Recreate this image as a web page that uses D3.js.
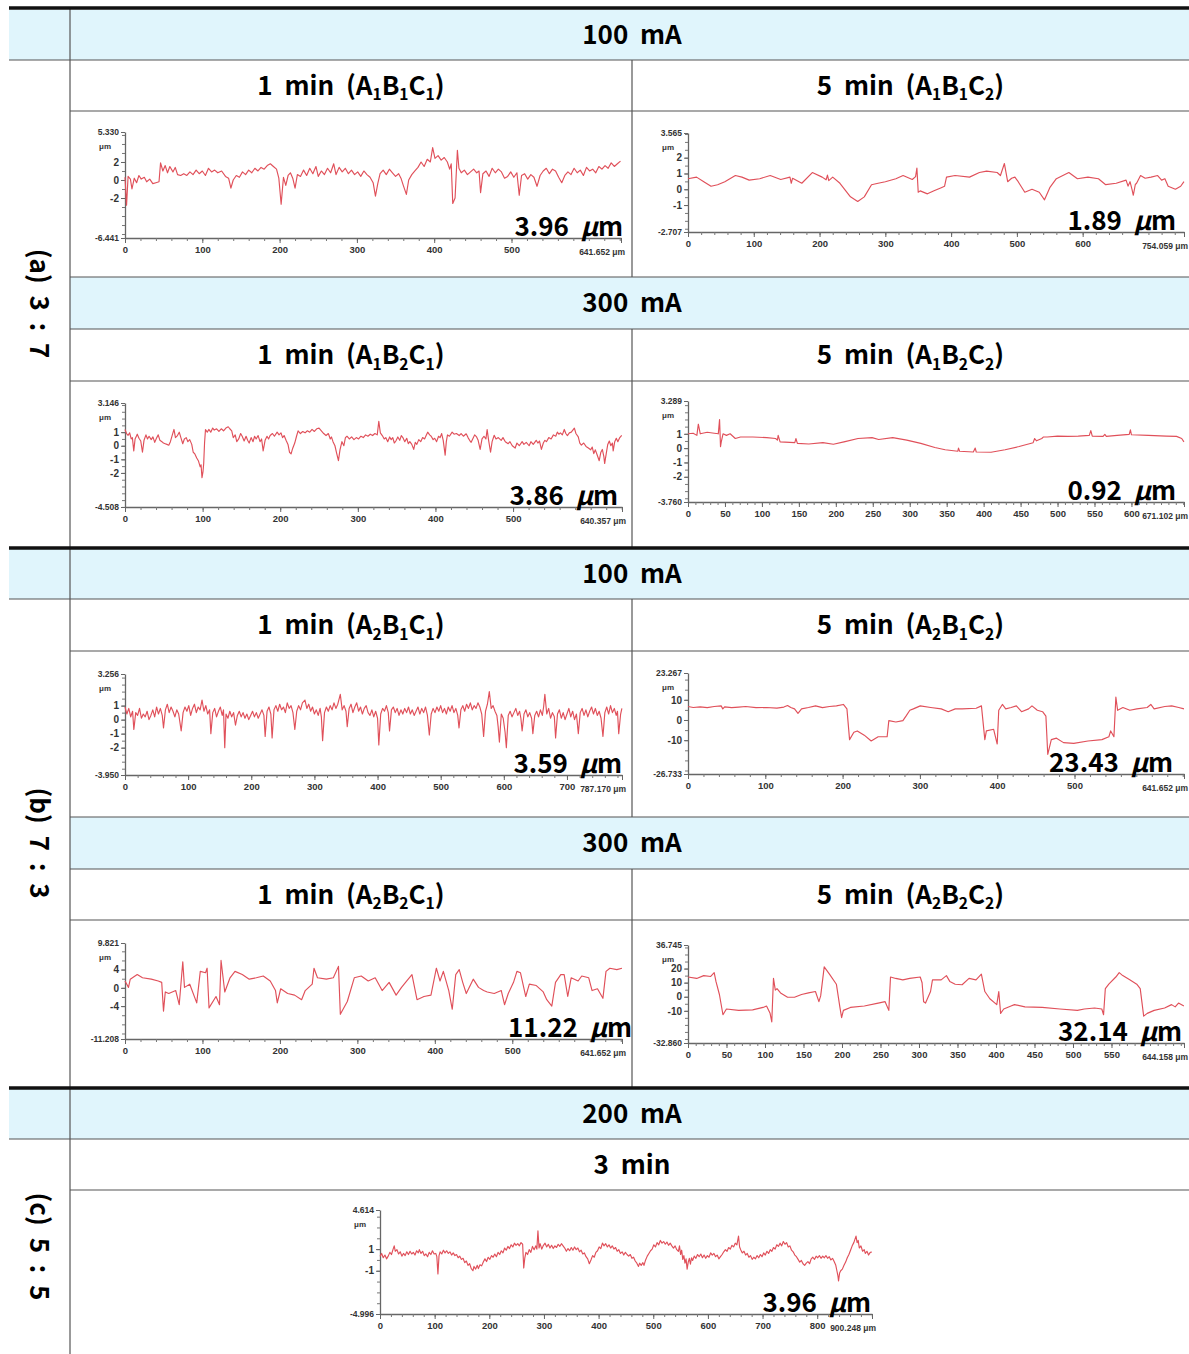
<!DOCTYPE html>
<html>
<head>
<meta charset="utf-8">
<script src="https://cdn.jsdelivr.net/npm/d3@7"></script>
<style>
  body { margin: 0; background: #fff; }
  text { white-space: pre; }
</style>
</head>
<body>
<div id="chart"></div>
<script>
// ---- Data ----
const groupLabels = ["(a)  3  :  7", "(b)  7  :  3", "(c)  5  :  5"]
const bandLabels = ["100  mA", "300  mA", "100  mA", "300  mA", "200  mA"]
const subLabels = [
  ["1  min  (A_1B_1C_1)", "5  min  (A_1B_1C_2)"],
  ["1  min  (A_1B_2C_1)", "5  min  (A_1B_2C_2)"],
  ["1  min  (A_2B_1C_1)", "5  min  (A_2B_1C_2)"],
  ["1  min  (A_2B_2C_1)", "5  min  (A_2B_2C_2)"],
  ["3  min"]
]
const roughness = ["3.96", "1.89", "3.86", "0.92", "3.59", "23.43", "11.22", "32.14", "3.96"]
const yMaxValues = [5.330, 3.565, 3.146, 3.289, 3.256, 23.267, 9.821, 36.745, 4.614]
const yMinValues = [-6.441, -2.707, -4.508, -3.760, -3.950, -26.733, -11.208, -32.860, -4.996]
const xLengths = [641.652, 754.059, 640.357, 671.102, 787.170, 641.652, 641.652, 644.158, 900.248]
const yTickLabels = [[2, 0, -2], [2, 1, 0, -1], [1, 0, -1, -2], [1, 0, -1, -2], [1, 0, -1, -2],
  [10, 0, -10], [4, 0, -4], [20, 10, 0, -10], [1, -1]]
const yMinorSteps = [1, 0.5, 0.5, 0.5, 0.5, 5, 2, 5, 1]
const xTickSteps = [100, 100, 100, 50, 100, 100, 100, 50, 100]

const profile1 = [[0,0.3],[2,-2.8],[4,0.4],[7,0.1],[9,-1.0],[12,0.2],[15,-0.3],[18,0.5],[21,0.1],[25,0.3],[28,-0.2],[32,0.1],[36,-0.4],[40,-0.3],[44,-0.2],[46,1.9],[49,1.0],[52,1.6],[55,0.8],[58,1.5],[62,0.9],[65,1.4],[68,0.6],[72,0.5],[76,0.7],[80,0.5],[84,0.9],[88,0.6],[92,1.1],[96,0.7],[100,1.0],[104,0.5],[108,1.3],[112,0.9],[116,1.1],[120,0.8],[125,1.0],[130,0.4],[134,0.2],[137,-0.9],[140,0.0],[144,0.5],[148,0.3],[152,0.9],[156,0.6],[160,1.1],[164,0.8],[168,1.3],[172,1.0],[176,1.4],[180,1.2],[184,1.6],[188,1.8],[192,1.5],[196,1.2],[199,0.2],[202,-2.7],[205,0.3],[208,-0.6],[211,0.5],[214,0.8],[217,0.2],[220,-0.9],[223,0.6],[227,0.4],[231,1.1],[235,0.5],[239,1.3],[243,0.7],[247,1.5],[250,0.4],[254,1.0],[258,0.6],[262,1.3],[266,0.8],[270,1.8],[273,0.6],[277,1.4],[281,0.9],[285,1.3],[289,0.7],[293,1.1],[297,0.6],[301,0.9],[305,0.4],[309,1.0],[313,0.6],[317,0.3],[321,-0.3],[324,-1.8],[327,-0.4],[330,0.7],[334,1.1],[338,0.6],[342,1.2],[346,0.8],[350,0.4],[354,0.7],[357,0.2],[360,-0.6],[364,-1.6],[367,0.0],[371,0.6],[375,1.0],[379,1.4],[383,2.0],[387,1.5],[391,2.3],[395,2.0],[398,3.6],[401,2.4],[405,2.7],[409,2.2],[413,2.5],[417,2.0],[420,1.2],[422,1.8],[424,-2.6],[427,-2.0],[430,3.3],[432,1.3],[435,0.8],[439,1.1],[443,0.6],[447,0.9],[451,1.2],[455,0.8],[458,1.0],[460,-1.4],[463,0.7],[467,1.0],[471,0.4],[475,1.3],[479,0.8],[483,1.2],[487,0.9],[491,0.2],[495,0.4],[499,0.9],[503,0.3],[507,0.8],[510,-1.7],[513,0.5],[517,0.7],[521,0.1],[525,0.6],[529,0.3],[533,-0.7],[537,0.5],[541,1.0],[545,1.3],[549,0.7],[553,1.2],[557,1.0],[561,0.3],[565,-0.3],[569,0.5],[573,0.9],[577,0.6],[581,1.3],[585,0.8],[589,1.1],[593,0.5],[597,1.4],[601,1.0],[605,1.2],[609,0.8],[613,1.5],[617,1.2],[621,1.6],[625,1.3],[629,1.9],[633,1.5],[637,1.8],[641,2.1]]

const profile2 = [[0,0.67],[13,0.77],[24,0.48],[35,0.19],[45,0.29],[56,0.48],[72,0.87],[82,0.77],[93,0.58],[109,0.67],[125,0.87],[141,0.62],[155,0.77],[157,0.38],[159,0.7],[173,0.38],[189,1.06],[204,0.77],[210,0.6],[212,0.9],[214,0.55],[220,0.77],[231,0.38],[247,-0.48],[258,-0.77],[268,-0.48],[279,0.29],[289,0.38],[300,0.48],[316,0.67],[327,0.87],[341,0.62],[346,0.8],[348,1.35],[350,-0.19],[353,-0.1],[364,-0.29],[374,-0.1],[385,0.1],[390,0.19],[393,0.77],[406,0.87],[428,0.77],[443,1.06],[454,1.15],[470,1.06],[475,0.87],[481,1.63],[486,0.48],[492,0.7],[497,0.77],[502,0.48],[512,-0.19],[523,0],[534,-0.19],[542,-0.67],[550,0.1],[560,0.67],[579,1.06],[592,0.67],[608,0.77],[624,0.67],[635,0.29],[651,0.38],[666,0.58],[669,0.2],[672,0.48],[675,0.0],[677,-0.38],[680,0.3],[682,0.38],[688,0.87],[695,0.7],[704,0.77],[714,0.87],[720,0.58],[725,0.67],[730,0.19],[741,0],[749,0.19],[754,0.48]]

const profile3 = [[0,1.19],[2,0.9],[4,0.77],[6,0.95],[8,0.5],[9.5,0.6],[11.3,-0.38],[13,0.5],[15.8,0.85],[18,0.55],[20.3,0.35],[22.5,-0.48],[24.5,0.4],[27,0.8],[29,0.5],[31,0.7],[33.8,0.45],[36,0.65],[38.3,0.25],[40.5,0.55],[42.8,0.8],[45,0.4],[47.5,0.3],[49.5,0.2],[51.8,0.15],[54,0.1],[56.4,0.04],[58.5,0.3],[61,0.8],[63.1,1.2],[65,0.6],[67.6,0.75],[69.9,1.0],[72,0.6],[74.4,0.15],[76.5,0.5],[78.9,0.6],[81,0.3],[83.4,0.45],[86,0.1],[87.9,-0.48],[90,-0.6],[92.4,-0.9],[94.5,-1.1],[96.9,-1.55],[98,-1.4],[99.2,-2.35],[100.5,-1.9],[101.4,-1.31],[102.5,0.2],[103.7,1.19],[106,1.0],[108,1.2],[110.5,1.0],[113,1.3],[115,1.15],[118,1.25],[121,1.05],[124,1.25],[127,1.1],[130,1.3],[133,1.4],[135,1.25],[137.5,1.1],[139.5,0.6],[142,0.8],[144,0.3],[146.5,0.5],[149,0.9],[151,0.7],[153.5,0.35],[156,0.7],[158,0.4],[160,0.2],[162.5,0.6],[165,0.3],[167,0.7],[169,0.5],[171.5,0.75],[174,0.3],[176,0.5],[178,-0.38],[180.5,0.4],[183,0.7],[185,0.5],[187,0.75],[190,0.9],[192.5,0.7],[196,1.0],[198.5,0.8],[201,0.95],[203,0.6],[205,0.75],[207.5,0.4],[210,0.1],[212,-0.48],[214,-0.6],[216,-0.2],[218.7,0.2],[221,0.7],[223,1.1],[226,0.9],[229,1.05],[232,0.95],[235,1.1],[238,1.0],[241,1.2],[244,1.05],[247,1.25],[250,1.3],[253,1.1],[256,0.9],[259,0.75],[262,0.9],[264.5,0.5],[266,0.65],[268,0.3],[270.5,0.0],[272.5,-0.5],[275,-1.1],[277,-0.3],[279.5,0.3],[282,0.0],[284,0.6],[286,0.7],[289,0.5],[292,0.65],[295,0.45],[298,0.6],[301,0.5],[304,0.7],[307,0.6],[310,0.8],[313,0.7],[316,0.85],[319,0.75],[322,0.9],[325,0.8],[327,1.8],[329,0.95],[331.5,0.75],[334,0.5],[336,0.6],[338.5,0.3],[341,0.65],[343,0.45],[345,0.6],[347,0.2],[349,0.35],[351.5,0.65],[354,0.4],[356,0.75],[358,0.6],[360.5,0.3],[363,0.55],[365,0.15],[367,0.3],[369.5,0.1],[372,-0.27],[374,0.25],[376,0.1],[378.5,0.45],[381,0.3],[383.5,0.6],[386,0.5],[388,0.75],[390,1.0],[392.5,0.8],[394.5,0.7],[397,0.45],[399,0.55],[401.5,0.3],[404,0.7],[406,0.6],[408,0.9],[410,0.4],[412.5,-0.69],[414,0.3],[415.5,0.8],[418,0.7],[421.5,1.0],[424,0.85],[427,0.9],[430.6,0.75],[433,0.9],[436,0.7],[439.6,0.88],[442,0.6],[444,0.4],[446,0.25],[448,0.5],[450.5,0.8],[453,0.65],[455,0.4],[457.6,-0.27],[460,0.5],[462.5,0.7],[465,0.5],[466.6,1.19],[468.5,0.4],[471,-0.48],[473,0.3],[475.7,0.77],[478,0.5],[481,0.6],[484.7,0.4],[487,0.6],[490,0.3],[493.7,0.15],[496,0.3],[499,0.0],[502.7,-0.17],[505,0.2],[508,0.0],[511.7,0.3],[514,0.1],[517,0.25],[520.7,0.0],[523,0.3],[526,0.1],[529.8,0.4],[532,0.2],[534,0.35],[536.5,-0.27],[539,0.2],[541,0.4],[543,0.3],[546,0.6],[549,0.5],[552,0.8],[555,0.7],[557,1.0],[559,0.85],[561,0.95],[563.5,0.8],[566,1.2],[568,0.9],[570,0.75],[572.5,0.95],[575,1.0],[577,1.15],[579,1.3],[581,0.9],[584,0.65],[586,0.2],[588,0.05],[591,0.2],[594,-0.05],[597,-0.17],[600,-0.3],[602,-0.1],[604,-0.58],[606,-0.3],[608.5,-0.7],[611,-1.1],[613,-0.5],[615,-0.27],[617,-0.8],[618,-1.31],[620,-0.6],[622,0.1],[624,0.35],[626,0.0],[628,0.2],[629,-0.38],[631,0.3],[633,0.55],[635,0.3],[637.5,0.6],[640,0.77]]

const profile4 = [[0,1.0],[7,1.04],[12,0.89],[14,1.67],[16.6,1.0],[26,1.11],[35.5,1.04],[41,1.0],[42.7,2.0],[44,0.1],[45,0.44],[47.4,1.0],[52,0.89],[57,1.0],[64,0.67],[71,0.78],[87.7,0.78],[106.6,0.73],[118.5,0.67],[121,0.56],[122,0.89],[124.6,0.44],[144.5,0.38],[146,0.67],[148,0.33],[163.5,0.29],[182.5,0.38],[196.7,0.27],[211,0.44],[230,0.67],[249,0.73],[258,0.6],[277,0.73],[296,0.56],[315,0.33],[334,0.04],[348,-0.11],[365,-0.22],[366,0.0],[367.5,-0.22],[386,-0.27],[388.6,0.0],[390,-0.27],[410,-0.29],[429,-0.11],[448,0.11],[467,0.38],[469,0.67],[471.6,0.51],[478.7,0.67],[481,0.78],[486,0.78],[500,0.84],[514,0.82],[528,0.84],[543,0.89],[545,1.22],[547,0.84],[561.6,0.82],[564,0.96],[566,0.82],[580.6,0.89],[597,0.96],[598.6,1.27],[600,0.93],[623,0.89],[647,0.84],[661,0.82],[668,0.67],[671,0.44]]

const profile5 = [[0,0.9],[3,0.4],[6,0.8],[9,0.2],[12,0.6],[14,-0.7],[17,0.5],[20,0.3],[23,0.8],[26,0.1],[29,0.4],[32,0.2],[35,0.6],[38,0.0],[41,0.3],[44,0.7],[47,0.2],[50,0.9],[53,0.4],[56,0.8],[59,0.3],[61,-0.6],[64,0.7],[67,1.1],[70,0.5],[73,0.9],[76,0.6],[79,0.2],[82,0.7],[85,0.4],[89,-0.8],[92,0.5],[95,0.9],[98,0.6],[101,1.0],[104,0.3],[107,0.8],[110,1.1],[113,0.5],[116,0.9],[119,0.7],[122,1.4],[125,0.6],[128,1.0],[131,0.4],[134,0.7],[136,-1.0],[139,0.5],[142,0.8],[145,0.2],[148,0.6],[151,0.9],[154,0.3],[156,0.7],[158,-2.0],[160,0.4],[163,0.1],[166,0.6],[169,0.2],[172,0.5],[175,-0.4],[178,0.3],[181,0.6],[184,0.2],[187,0.5],[190,0.1],[193,0.4],[196,0.0],[199,0.3],[202,0.6],[205,0.2],[208,0.5],[211,0.1],[214,0.4],[217,0.7],[220,0.3],[222,-1.2],[225,0.6],[228,0.9],[231,0.4],[233,-1.3],[236,0.7],[239,1.0],[242,0.6],[245,1.1],[248,0.7],[251,0.9],[254,0.5],[257,1.2],[260,0.8],[263,1.0],[266,0.5],[269,-0.7],[272,0.6],[275,1.0],[278,0.7],[281,1.2],[285,1.4],[288,0.8],[291,1.1],[294,0.6],[297,0.9],[300,0.4],[303,0.7],[306,0.3],[309,0.8],[311,0.2],[313,-1.5],[316,0.5],[319,0.9],[322,0.6],[325,1.0],[328,0.7],[331,1.2],[334,0.8],[337,1.1],[341,1.8],[344,0.7],[347,1.0],[350,0.6],[352,-0.5],[355,0.8],[358,1.1],[361,0.5],[364,0.9],[367,1.2],[370,0.6],[373,0.9],[376,0.4],[379,0.8],[382,1.0],[385,0.5],[388,0.3],[391,0.7],[394,0.2],[397,0.6],[400,0.1],[402,-1.8],[405,0.4],[408,0.8],[411,0.6],[414,1.0],[417,0.5],[419,-0.8],[422,0.7],[425,0.9],[428,0.5],[431,0.8],[434,0.3],[437,0.7],[440,0.4],[443,0.8],[446,0.5],[449,0.9],[452,0.4],[455,0.7],[458,0.3],[461,0.6],[464,0.9],[467,0.4],[470,0.8],[473,0.5],[476,0.9],[479,0.3],[482,-1.1],[485,0.4],[488,0.8],[491,0.5],[494,0.9],[497,0.6],[500,1.0],[503,0.5],[506,0.8],[509,0.4],[512,0.9],[515,0.6],[518,1.0],[521,0.5],[524,0.8],[527,0.3],[529,-0.6],[532,0.7],[535,1.0],[538,0.6],[541,1.1],[544,0.8],[547,1.2],[550,0.7],[553,1.0],[556,0.8],[559,1.2],[562,0.9],[565,0.4],[568,-1.2],[571,0.6],[574,1.1],[577,2.0],[580,0.8],[583,1.0],[586,0.6],[589,0.3],[591,-0.5],[593,-1.6],[596,0.4],[599,0.1],[602,-0.9],[604,-2.0],[607,0.3],[610,0.6],[613,0.2],[616,0.5],[619,0.8],[622,0.3],[625,0.6],[627,0.1],[629,-0.8],[632,0.4],[635,0.7],[638,0.2],[641,0.5],[644,0.1],[646,-1.0],[649,0.3],[652,0.6],[655,0.2],[658,0.7],[661,0.3],[663,0.9],[665,1.8],[668,0.4],[671,0.8],[674,0.1],[677,0.5],[680,0.2],[682,-1.3],[685,0.4],[688,0.7],[691,0.1],[694,0.5],[697,0.0],[700,0.4],[703,0.8],[706,0.2],[709,0.6],[712,0.0],[715,0.4],[718,-1.0],[721,0.5],[724,0.8],[727,0.3],[730,0.7],[733,0.2],[736,0.6],[739,0.9],[742,0.4],[745,0.8],[748,0.3],[751,0.6],[754,0.1],[757,-1.2],[760,0.5],[763,0.9],[766,0.4],[769,1.0],[772,0.5],[775,0.8],[778,0.3],[780,0.6],[782,-1.0],[785,0.4],[787,0.8]]

const profile6 = [[0,6.7],[6.8,6.2],[15.8,6.5],[24.9,6.1],[33.9,6.7],[42.9,7.0],[45,5.5],[47.4,6.5],[56.5,6.1],[65.5,6.4],[74.6,6.7],[88,6.1],[101.7,6.2],[115,5.9],[124,6.4],[128.8,7.2],[133,6.2],[137.8,5.5],[142.3,3.3],[146.9,5.5],[155.9,6.2],[165,7.0],[174,6.1],[183,6.7],[192,7.0],[201,7.7],[205.6,5.5],[209,-9.7],[214.6,-6.1],[219,-5.4],[228,-7.5],[237,-10.4],[246,-8.3],[257.6,-8.3],[259.8,-0.3],[268.9,-1.0],[278,-0.3],[282,1.9],[287,4.8],[291.5,5.5],[300.5,7.0],[314,6.2],[327.6,5.5],[336.6,4.1],[345.7,5.5],[354.7,5.5],[372.8,5.8],[379.6,7.0],[384,-9.7],[386,-5.4],[395.4,-4.6],[400,-11.9],[402,4.8],[406.7,7.7],[411,5.5],[418,6.2],[424.8,7.0],[431.5,4.1],[440.6,5.5],[445,7.0],[451.9,4.8],[458.7,4.1],[463,1.9],[465.4,-17],[470,-9.7],[476.7,-9.0],[485.8,-11.2],[499,-11.6],[517.4,-10.4],[535.5,-9.7],[544.5,-8.3],[546.8,-5.4],[551,-8.3],[553.5,11.3],[555.8,4.8],[562.6,6.2],[571.6,4.8],[580.7,5.5],[594,6.2],[598.7,7.7],[603,5.5],[616.8,6.7],[625.8,7.0],[634.9,6.2],[641.6,5.5]]

const profile7 = [[0,1.5],[4.5,0.1],[6.8,1.9],[15.8,2.9],[22.6,2.2],[33.9,1.9],[42.9,1.5],[47.4,1.2],[49.7,-5.1],[52,-0.9],[56.5,-1.25],[61,-0.9],[65.5,-0.6],[70,-3.7],[74.6,5.7],[76.8,0.1],[83.6,0.8],[92.6,-3.3],[97.2,3.6],[104,3.3],[106,4.3],[108.5,-4.4],[117.5,-1.9],[122,-3.7],[124,6.0],[128.8,-0.9],[135.6,2.2],[142,3.6],[151.4,2.9],[160.4,1.9],[169.5,2.2],[178.5,2.6],[187.5,1.5],[194.3,-0.6],[196.6,-3.3],[201,-0.2],[210,-1.25],[219,-1.6],[228,-2.6],[232.7,-0.6],[241.7,0.8],[244,4.3],[248.5,2.2],[260,1.9],[269,2.2],[275.6,4.7],[278,-5.8],[287,-3.0],[296,2.2],[305,2.6],[314,1.5],[323,2.2],[332,-0.6],[341,1.2],[350,-1.6],[357,0.1],[363.8,1.5],[370.5,2.9],[377,-2.6],[386,-1.9],[395,-1.6],[402,4.3],[406.7,1.5],[411,3.6],[418,-0.6],[422.5,-4.7],[427,2.9],[431.5,4.0],[436,1.2],[440.6,-1.25],[449.6,1.9],[456.4,0.1],[463,-0.6],[467.7,-0.9],[476.7,-1.25],[485.8,-0.6],[490,-3.7],[494.8,-1.25],[501.6,1.2],[506,3.6],[510.6,3.3],[517.4,-1.9],[522,0.8],[531,0.5],[540,-0.9],[544.5,-2.6],[551,-4.0],[555.8,1.2],[562.6,2.9],[567,2.9],[571.6,-1.9],[576,2.2],[585,1.5],[589.7,2.6],[598.7,2.2],[603,-0.6],[610,-0.2],[617,-2.3],[621,3.6],[626,4.3],[635,4.0],[641.6,4.3]]

const profile8 = [[0,14],[11.3,13],[20.4,15],[29.5,14.4],[34,17.1],[36.3,10.9],[40.8,1.6],[45.4,-12.8],[49.9,-8.7],[65.8,-9.7],[83.9,-9.3],[97.5,-7.6],[102,-6.6],[106.6,-11.8],[108.8,-17.9],[111,13],[113.4,4.7],[115.6,5.8],[120.2,2.7],[129.3,-0.4],[138.3,-0.4],[147.4,1.6],[156.5,2.7],[165.5,3.7],[170,-3.5],[172.3,0.6],[176.9,21.2],[183.7,16.1],[192.7,8.9],[197.3,-7.6],[199.5,-14.8],[201.8,-9.7],[210.9,-7.6],[229,-6.6],[247,-4.5],[256,-3.5],[260.8,-9.7],[263,14],[269.8,13],[279,12],[288,13],[301.6,14],[304,9.9],[306,-3.5],[308.5,-4.5],[315,3.7],[317.5,12],[328.8,12],[335.6,15],[340,10.9],[347,8.9],[356,8.5],[365,13],[374,12],[381,16.1],[385.5,3.7],[392,-1.4],[401,-5.6],[403.6,3.7],[406,-11.8],[410,-8.7],[419.5,-6.6],[424,-5.6],[437.6,-7.2],[460,-7.6],[483,-8.7],[505.7,-9.7],[514.7,-8.7],[528,-8],[537.4,-8.7],[539.7,-12.8],[542,5.8],[546.5,8.9],[555.6,14],[560,17.1],[564.6,15],[573.7,12],[582.8,8.9],[587.3,5.8],[591.8,-13.8],[596.4,-11.8],[605.4,-9.7],[619,-8],[628,-5.6],[632.7,-7.2],[637,-4.5],[644,-6.6]]

const profile9 = [[0,0.33],[3,0.6],[6,0.2],[9,0.45],[12,0.1],[15,0.35],[18,0.7],[21,0.5],[24,1.0],[26,1.3],[28,0.8],[31,0.95],[34,0.55],[37,0.75],[40,0.35],[43,0.6],[46,0.4],[49,0.75],[52,0.5],[55,0.8],[58,0.55],[61,0.7],[64,0.45],[67,0.85],[70,0.65],[72,0.95],[75,0.6],[78,0.8],[81,0.4],[84,0.55],[87,0.3],[90,0.7],[93,0.5],[96,0.85],[99,0.55],[102,0.6],[104,0.3],[106,-1.3],[108,0.4],[110,0.75],[113,0.55],[116,0.9],[119,0.65],[122,0.85],[125,0.6],[128,0.75],[131,0.45],[134,0.65],[137,0.4],[140,0.5],[143,0.2],[146,0.35],[149,0.05],[152,0.15],[155,-0.25],[158,-0.1],[161,-0.5],[164,-0.35],[167,-0.8],[170,-1.0],[172,-0.6],[175,-0.85],[178,-0.5],[180,-0.8],[183,-0.45],[186,-0.55],[189,-0.2],[192,0.1],[195,-0.15],[198,0.25],[201,0.05],[204,0.4],[207,0.25],[210,0.55],[213,0.3],[216,0.7],[219,0.5],[222,0.85],[225,0.65],[228,1.1],[231,0.9],[234,1.25],[237,1.05],[240,1.4],[243,1.2],[246,1.55],[249,1.35],[252,1.5],[255,1.3],[258,1.6],[261,1.45],[263,-0.75],[265,0.2],[267,0.7],[270,0.5],[273,0.95],[276,0.7],[279,1.25],[282,0.95],[285,1.3],[287,1.0],[289,2.7],[291,1.1],[293,1.5],[296,1.0],[299,1.35],[302,1.55],[305,1.2],[308,1.45],[311,1.1],[314,1.35],[317,1.05],[320,1.3],[323,1.15],[326,1.45],[329,1.25],[332,1.5],[335,1.3],[338,1.1],[341,0.8],[344,1.05],[347,0.85],[350,1.15],[353,0.9],[356,1.2],[359,0.95],[362,1.1],[365,0.75],[368,0.9],[371,0.55],[374,0.65],[377,0.3],[380,0.1],[383,-0.35],[386,0.0],[389,0.4],[392,0.25],[395,0.7],[398,0.85],[401,1.2],[404,1.05],[407,1.55],[410,1.3],[413,1.5],[416,1.2],[419,1.4],[422,1.1],[425,1.3],[428,1.0],[431,1.15],[434,0.8],[437,0.95],[440,0.6],[443,0.75],[446,0.45],[449,0.7],[452,0.5],[455,0.35],[458,0.5],[461,0.15],[464,0.25],[467,-0.1],[470,-0.3],[473,-0.6],[475,-0.3],[478,-0.5],[481,-0.25],[483,-0.5],[486,0.0],[489,0.35],[492,0.6],[495,0.85],[498,1.0],[501,1.4],[504,1.2],[507,1.6],[510,1.4],[513,1.8],[516,1.55],[519,1.7],[522,1.45],[525,1.65],[528,1.35],[531,1.55],[534,1.3],[537,1.1],[540,1.3],[543,0.95],[546,0.8],[548,1.3],[550,0.5],[552,0.9],[554,0.05],[556,0.4],[558,-0.3],[560,0.1],[562,-0.85],[564,-0.2],[566,0.15],[568,-0.4],[570,0.2],[572,-0.05],[575,0.35],[578,0.15],[581,0.5],[584,0.3],[587,0.55],[590,0.2],[593,0.45],[596,0.15],[599,0.4],[602,0.25],[605,0.65],[608,0.45],[611,0.6],[614,0.3],[617,0.45],[620,0.1],[623,0.3],[626,0.5],[629,0.75],[632,0.95],[635,0.8],[638,1.15],[641,1.0],[644,1.35],[647,1.2],[650,1.55],[653,1.4],[656,2.2],[658,1.2],[660,0.95],[663,0.65],[666,0.8],[669,0.45],[672,0.6],[675,0.25],[678,0.4],[681,0.05],[684,0.25],[687,0.1],[690,0.4],[693,0.2],[696,0.5],[699,0.3],[702,0.65],[705,0.45],[708,0.8],[711,0.6],[714,0.95],[717,0.8],[720,1.15],[723,1.0],[726,1.4],[729,1.25],[732,1.55],[735,1.3],[738,1.7],[741,1.45],[744,1.6],[747,1.2],[750,1.3],[753,0.9],[756,0.75],[759,0.45],[762,0.3],[765,0.05],[768,-0.2],[771,-0.05],[774,-0.35],[777,-0.5],[780,-0.3],[783,-0.15],[786,-0.35],[789,0.1],[792,0.25],[795,0.05],[798,0.35],[801,0.2],[804,0.4],[807,0.15],[810,0.35],[813,0.2],[816,0.4],[819,0.15],[822,0.3],[825,0.0],[828,0.15],[831,-0.15],[834,-0.5],[836,-1.0],[838,-1.5],[839,-1.95],[841,-1.2],[843,-1.0],[846,-0.85],[849,-0.5],[852,-0.2],[855,0.2],[858,0.5],[861,0.9],[864,1.3],[867,1.6],[869,1.9],[871,2.2],[873,1.6],[875,1.8],[877,1.1],[880,1.3],[883,0.8],[886,0.95],[888,0.6],[891,0.8],[894,0.45],[897,0.7],[900,0.73]]

const profiles = [profile1, profile2, profile3, profile4, profile5, profile6, profile7, profile8, profile9]

// ---- Layout ----
const dimensions = {
  width: 1189,
  height: 1354,
  tableLeft: 9,
  colA: 70,
  colMid: 632,
  tableRight: 1189
}

const blocks = [
  { band: 10, sub: 60, plot: 111, end: 277, leftBlue: true, split: true },
  { band: 277, sub: 329, plot: 381, end: 547, leftBlue: false, split: true },
  { band: 549, sub: 599, plot: 651, end: 817, leftBlue: true, split: true },
  { band: 817, sub: 869, plot: 920, end: 1087, leftBlue: false, split: true },
  { band: 1089, sub: 1139, plot: 1190, end: 1354, leftBlue: true, split: false }
]
const thickLines = [8, 548, 1088]
const groupSpans = [[60, 547], [599, 1087], [1139, 1354]]

// plot placement inside its cell
const panelLayout = [
  { block: 0, left: 125, width: 496, top: 21, bottom: 127, labelDx: 2 },
  { block: 0, left: 688, width: 496, top: 22, bottom: 121, labelDx: -8 },
  { block: 1, left: 125, width: 497, top: 22, bottom: 126, labelDx: -4 },
  { block: 1, left: 688, width: 496, top: 20, bottom: 121, labelDx: -8 },
  { block: 2, left: 125, width: 497, top: 23, bottom: 124, labelDx: 0 },
  { block: 2, left: 688, width: 496, top: 22, bottom: 123, labelDx: -11 },
  { block: 3, left: 125, width: 497, top: 23, bottom: 119, labelDx: 10 },
  { block: 3, left: 688, width: 496, top: 25, bottom: 123, labelDx: -2 },
  { block: 4, left: 380, width: 492, top: 20, bottom: 124, labelDx: -1 }
]

const headFont = "'Noto Sans CJK KR', 'Noto Sans', sans-serif"
const axisFont = "'Liberation Sans Narrow', 'Liberation Sans', Arial, sans-serif"
const blue = "#e0f5fc"
const gridColor = "#555"
const lineColor = "#e0505a"

// ---- Draw ----
const svg = d3.select("#chart")
  .append("svg")
  .attr("width", dimensions.width)
  .attr("height", dimensions.height)

svg.append("rect")
  .attr("width", dimensions.width)
  .attr("height", dimensions.height)
  .attr("fill", "#fff")

// text with _n subscripts
function richText(sel, label, size) {
  const parts = label.split(/_(\d)/)
  let inSub = false
  parts.forEach((p, i) => {
    if (p === "") return
    const isSub = i % 2 === 1
    const t = sel.append("tspan").text(p)
    if (isSub) {
      t.attr("font-size", size * 0.6).attr("dy", size * 0.2)
      inSub = true
    } else if (inSub) {
      t.attr("dy", -size * 0.2)
      inSub = false
    }
  })
}

const table = svg.append("g")

blocks.forEach((b, bi) => {
  // band background
  table.append("rect")
    .attr("x", b.leftBlue ? dimensions.tableLeft : dimensions.colA)
    .attr("y", b.band)
    .attr("width", dimensions.tableRight - (b.leftBlue ? dimensions.tableLeft : dimensions.colA))
    .attr("height", b.sub - b.band)
    .attr("fill", blue)

  table.append("text")
    .attr("x", dimensions.colMid)
    .attr("y", (b.band + b.sub) / 2)
    .attr("dy", "0.36em")
    .attr("text-anchor", "middle")
    .attr("font-family", headFont)
    .attr("font-weight", 700)
    .attr("font-size", 26)
    .text(bandLabels[bi])

  // sub header labels
  const centers = b.split
    ? [(dimensions.colA + dimensions.colMid) / 2, (dimensions.colMid + dimensions.tableRight) / 2]
    : [dimensions.colMid]
  subLabels[bi].forEach((lab, ci) => {
    const t = table.append("text")
      .attr("x", centers[ci])
      .attr("y", (b.sub + b.plot) / 2)
      .attr("dy", "0.36em")
      .attr("text-anchor", "middle")
      .attr("font-family", headFont)
      .attr("font-weight", 700)
      .attr("font-size", 26)
    richText(t, lab, 26)
  })

  // horizontal rules
  const hx0 = b.leftBlue ? dimensions.tableLeft : dimensions.colA
  ;[[b.band, hx0], [b.sub, hx0], [b.plot, dimensions.colA]]
    .forEach(([yy, x0]) => {
      if (thickLines.some(t => Math.abs(t - yy) < 4)) return
      table.append("line")
        .attr("x1", x0).attr("x2", dimensions.tableRight)
        .attr("y1", yy).attr("y2", yy)
        .attr("stroke", gridColor).attr("stroke-width", 1.2)
    })

  // middle divider
  if (b.split) {
    table.append("line")
      .attr("x1", dimensions.colMid).attr("x2", dimensions.colMid)
      .attr("y1", b.sub).attr("y2", b.end)
      .attr("stroke", gridColor).attr("stroke-width", 1.2)
  }
})

// left column divider
table.append("line")
  .attr("x1", dimensions.colA).attr("x2", dimensions.colA)
  .attr("y1", 8).attr("y2", dimensions.height)
  .attr("stroke", gridColor).attr("stroke-width", 1.2)

// thick rules
thickLines.forEach(yy => {
  table.append("line")
    .attr("x1", dimensions.tableLeft).attr("x2", dimensions.tableRight)
    .attr("y1", yy).attr("y2", yy)
    .attr("stroke", "#111").attr("stroke-width", 3.5)
})

// group labels (rotated)
groupLabels.forEach((lab, gi) => {
  const cy = (groupSpans[gi][0] + groupSpans[gi][1]) / 2
  table.append("text")
    .attr("transform", `translate(${(dimensions.tableLeft + dimensions.colA) / 2}, ${cy}) rotate(90)`)
    .attr("dy", "0.36em")
    .attr("text-anchor", "middle")
    .attr("font-family", headFont)
    .attr("font-weight", 700)
    .attr("font-size", 26)
    .text(lab)
})

// ---- profile panels ----
function drawPanel(i) {
  const lay = panelLayout[i]
  const cellTop = blocks[lay.block].plot
  const top = cellTop + lay.top
  const bottom = cellTop + lay.bottom
  const left = lay.left
  const right = lay.left + lay.width
  const isEnd = d => d === yMaxValues[i] || d === yMinValues[i]

  const xScale = d3.scaleLinear().domain([0, xLengths[i]]).range([left, right])
  const yScale = d3.scaleLinear().domain([yMinValues[i], yMaxValues[i]]).range([bottom, top])

  const g = svg.append("g").attr("class", "panel")

  // x axis: minor ticks
  const step = xTickSteps[i]
  const minor = d3.range(0, xLengths[i], step / 5)
  g.append("g")
    .attr("transform", `translate(0, ${bottom})`)
    .call(d3.axisBottom(xScale).tickValues(minor).tickSize(3).tickFormat("").tickSizeOuter(0))
    .call(a => a.select(".domain").attr("stroke", "#666").attr("stroke-width", 1.3))
    .call(a => a.selectAll(".tick line").attr("stroke", "#777"))

  // x axis: labelled ticks
  const majors = d3.range(0, xLengths[i], step)
    .filter(v => xScale(xLengths[i]) - xScale(v) > 45)
  const xAxis = g.append("g")
    .attr("transform", `translate(0, ${bottom})`)
    .call(d3.axisBottom(xScale).tickValues(majors.concat([xLengths[i]])).tickSize(5).tickPadding(3)
      .tickFormat(d => d === xLengths[i] ? "" : String(d)))
  xAxis.select(".domain").remove()
  xAxis.selectAll(".tick line").attr("stroke", "#666")
  xAxis.selectAll(".tick text")
    .attr("font-family", axisFont).attr("font-weight", "bold").attr("font-size", 9.5).attr("fill", "#333")

  g.append("text")
    .attr("x", right + 4)
    .attr("y", bottom + 17)
    .attr("text-anchor", "end")
    .attr("font-family", axisFont).attr("font-weight", "bold").attr("font-size", 8.5).attr("fill", "#333")
    .text(xLengths[i].toFixed(3) + " μm")

  // y axis: minor ticks
  const ms = yMinorSteps[i]
  const yMinor = d3.range(Math.ceil(yMinValues[i] / ms) * ms, yMaxValues[i], ms)
  g.append("g")
    .attr("transform", `translate(${left}, 0)`)
    .call(d3.axisLeft(yScale).tickValues(yMinor).tickSize(3).tickFormat("").tickSizeOuter(0))
    .call(a => a.select(".domain").attr("stroke", "#666").attr("stroke-width", 1.3))
    .call(a => a.selectAll(".tick line").attr("stroke", "#777"))

  // y axis: labelled ticks incl. extremes
  const yVals = [yMaxValues[i], yMinValues[i]].concat(yTickLabels[i])
  const yAxis = g.append("g")
    .attr("transform", `translate(${left}, 0)`)
    .call(d3.axisLeft(yScale).tickValues(yVals).tickSize(4).tickPadding(2)
      .tickFormat(d => isEnd(d) ? d.toFixed(3) : String(d)))
  yAxis.select(".domain").remove()
  yAxis.selectAll(".tick line").attr("stroke", "#666")
  yAxis.selectAll(".tick text")
    .attr("font-family", axisFont).attr("font-weight", "bold")
    .attr("font-size", d => isEnd(d) ? 8.5 : 10)
    .attr("fill", "#333")

  g.append("text")
    .attr("x", left - 26)
    .attr("y", top + 17)
    .attr("font-family", axisFont).attr("font-weight", "bold").attr("font-size", 8).attr("fill", "#333")
    .text("μm")

  // profile line
  const line = d3.line()
    .x(d => xScale(d[0]))
    .y(d => yScale(d[1]))

  g.append("path")
    .datum(profiles[i])
    .attr("d", line)
    .attr("fill", "none")
    .attr("stroke", lineColor)
    .attr("stroke-width", 1.15)
    .attr("stroke-linejoin", "round")

  // roughness value
  const lbl = g.append("text")
    .attr("x", right + lay.labelDx)
    .attr("y", bottom - 2)
    .attr("text-anchor", "end")
    .attr("font-family", headFont)
    .attr("font-weight", 700)
    .attr("font-size", 26)
    .attr("fill", "#000")
  lbl.append("tspan").text(roughness[i] + "  ")
  lbl.append("tspan").attr("font-style", "italic").text("μ")
  lbl.append("tspan").text("m")
}

profiles.forEach((p, i) => drawPanel(i))
</script>
